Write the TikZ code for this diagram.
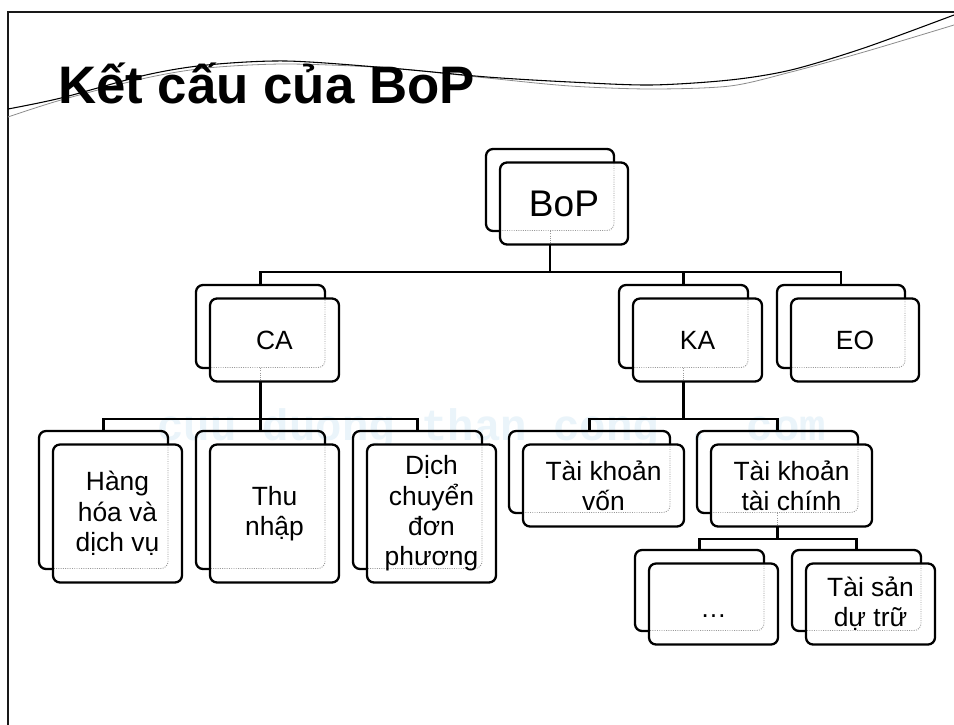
\documentclass[tikz,border=0pt]{standalone}
\usepackage{fontspec}
\setmainfont{Liberation Sans}
\newfontfamily\wmfont{Liberation Mono}
\definecolor{wmcol}{HTML}{EAF4FA}
\pgfdeclarelayer{under}
\pgfsetlayers{under,main}
\tikzset{
  base/.style={rectangle,rounded corners=5.25pt,inner sep=0pt,outer sep=0pt,line width=1.7pt,draw=black},
  backbox/.style={base},
  frontbox/.style={base,fill=white,align=center,font=\fontsize{19.8}{22.7}\selectfont,
    path picture={\draw[ghost,rounded corners=5.25pt]
      ([shift={(-14,-14)}]path picture bounding box.north west) rectangle
      ([shift={(-14,-14)}]path picture bounding box.south east);}},
  conn/.style={line width=1.7pt,draw=black},
  ghost/.style={line width=0.7pt,draw=black!40,densely dotted},
  wave/.style={line width=0.8pt,draw=black,smooth},
  wavegray/.style={line width=0.6pt,draw=black!45,smooth},
}
% name, back x1,y1,x2,y2, text
\newcommand{\orgbox}[6]{%
  \node[backbox,minimum width={(#4-#2)*0.75pt},minimum height={(#5-#3)*0.75pt}]
    (#1b) at ({(#2+#4)/2},{(#3+#5)/2}) {};
  \node[frontbox,minimum width={(#4-#2)*0.75pt},minimum height={(#5-#3)*0.75pt}]
    (#1f) at ({(#2+#4)/2+14},{(#3+#5)/2+13.5}) {#6};
}
\begin{document}
\begin{tikzpicture}[x=0.75pt,y=-0.75pt]
\useasboundingbox (0,0) rectangle (954,725);
\begin{pgfonlayer}{under}
\fill[white] (0,0) rectangle (954,725);
\node[anchor=base west,inner sep=0pt,text=wmcol,font=\fontsize{33}{36}\selectfont\wmfont\bfseries] (wm) at (157,440) {cuu duong than cong . com};
\end{pgfonlayer}
% frame
\draw[line width=1.5pt,draw=black!90] (954,12) -- (8,12) -- (8,725);
% waves
\draw[wavegray] plot coordinates {(8,117) (61,100) (146,78) (207,68) (286,64) (389,68) (487,78) (570,86) (651,89) (730,86) (791,72) (864,52) (954,25)};
\draw[wave] plot coordinates {(8,109) (61,98) (146,75) (207,65) (286,61) (389,68) (487,77) (570,82) (651,85) (730,80) (791,70) (864,48) (954,15)};
% title
\node[anchor=base west,inner sep=0pt,font=\fontsize{39.6}{44}\selectfont\bfseries] (title) at (58,103) {Kết cấu của BoP};
% boxes
\orgbox{bop}{486}{149}{614}{231}{\fontsize{27.8}{30}\selectfont BoP}
\orgbox{ca}{196}{285}{325}{368}{CA}
\orgbox{ka}{619}{285}{748}{368}{KA}
\orgbox{eo}{777}{285}{905}{368}{EO}
\orgbox{hh}{39}{431}{168}{569}{Hàng\\hóa và\\dịch vụ}
\orgbox{tn}{196}{431}{325}{569}{Thu\\nhập}
\orgbox{dc}{353}{431}{482}{569}{Dịch\\chuyển\\đơn\\phương}
\orgbox{tv}{509}{431}{670}{513}{Tài khoản\\vốn}
\orgbox{tc}{697}{431}{858}{513}{Tài khoản\\tài chính}
\orgbox{et}{635}{550}{764}{631}{\smash{\raisebox{-10pt}{…}}}
\orgbox{ts}{792}{550}{921}{631}{Tài sản\\dự trữ}
% junction levels
\coordinate (j1) at (0,272);
\coordinate (j2) at (0,419);
\coordinate (j3) at (0,539);
\begin{pgfonlayer}{under}
\foreach \c in {ca,ka,eo} \draw[conn] (bopb.south) -- (bopb.south |- j1) -| (\c b.north);
\foreach \c in {hh,tn,dc} \draw[conn] (cab.south) -- (cab.south |- j2) -| (\c b.north);
\foreach \c in {tv,tc} \draw[conn] (kab.south) -- (kab.south |- j2) -| (\c b.north);
\foreach \c in {et,ts} \draw[conn] (tcb.south) -- (tcb.south |- j3) -| (\c b.north);
\end{pgfonlayer}
% hidden stubs of connectors inside the front boxes
\foreach \c in {bop,ca,ka,tc} \draw[ghost] (\c b.south) -- (\c b.south |- \c f.south);
\end{tikzpicture}
\end{document}
